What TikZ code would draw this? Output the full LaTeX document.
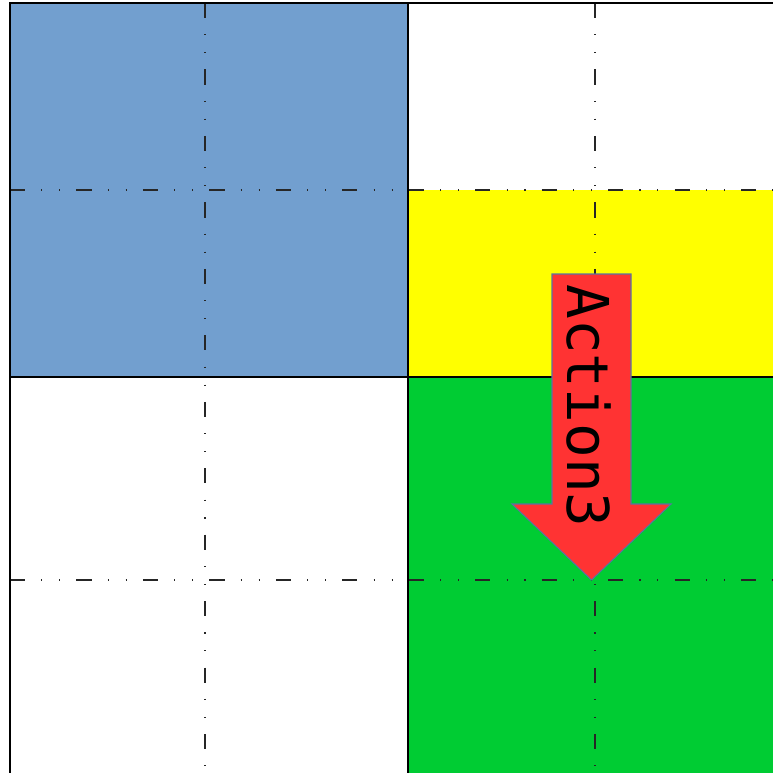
\documentclass[tikz,border=0pt]{standalone}
\usepackage{fontspec}
\setmonofont{DejaVu Sans Mono}
\definecolor{cellblue}{HTML}{729FCF}
\definecolor{cellyellow}{HTML}{FFFF00}
\definecolor{cellgreen}{HTML}{00CC33}
\definecolor{actred}{HTML}{FF3333}
\definecolor{actedge}{HTML}{5A74A0}
\begin{document}
\begin{tikzpicture}[x=0.01cm, y=-0.01cm,
    gridline/.style={line width=0.4pt, black},
    subline/.style={line width=0.35pt, black!85,
        dash pattern=on 4.3pt off 4.6pt on 0.3pt off 4.8pt on 0.3pt off 4.6pt},
    actarrow/.style={fill=actred, draw=actedge, line width=0.3pt}]
    \useasboundingbox (0,0) rectangle (773,773);
    \clip (0,0) rectangle (773,773);

    %cells
    \fill[cellblue] (10,3) rectangle (408,377);
    \fill[cellyellow] (408,190) rectangle (773,377);
    \fill[cellgreen] (408,377) rectangle (773,773);

    %sub grid (dash dot)
    \draw[subline] (205,3) -- (205,773);
    \draw[subline] (595,3) -- (595,773);
    \draw[subline] (10,190) -- (773,190);
    \draw[subline] (10,580) -- (773,580);

    %main grid (solid)
    \draw[gridline] (773,3) -- (10,3) -- (10,773);
    \draw[gridline] (408,3) -- (408,773);
    \draw[gridline] (10,377) -- (773,377);

    %action arrow
    \draw[actarrow] (552,274) -- (631,274) -- (631,504) -- (671,504)
        -- (591.5,580) -- (512,504) -- (552,504) -- cycle;
    \node[rotate=-90, inner sep=0pt, font=\ttfamily\fontsize{16.4}{20}\selectfont] (act3) at (589,406) {Action3};

\end{tikzpicture}
\end{document}
